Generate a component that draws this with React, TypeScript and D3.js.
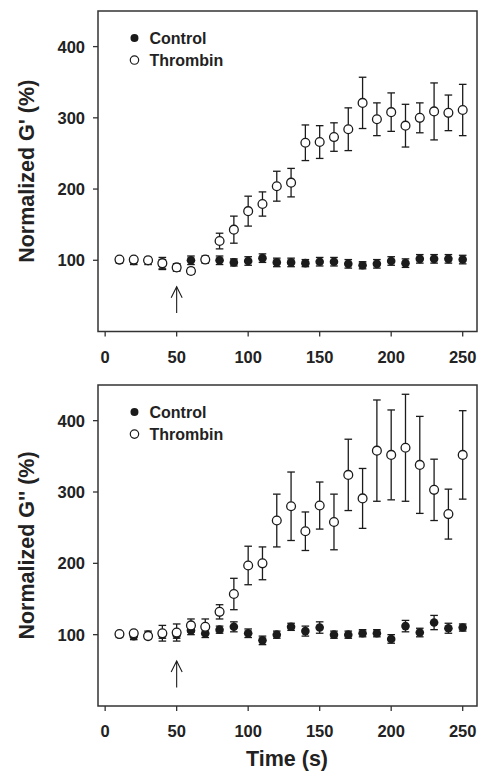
import React from "react";
import { scaleLinear } from "d3";

const times = [10, 20, 30, 40, 50, 60, 70, 80, 90, 100, 110, 120, 130, 140, 150, 160, 170, 180, 190, 200, 210, 220, 230, 240, 250];

// G' panel
const gpControl = [100, 99, 99, 94, 90, 100, 101, 100, 97, 99, 103, 97, 97, 96, 98, 98, 95, 93, 95, 99, 96, 102, 102, 102, 101];
const gpControlErr = [4, 5, 5, 7, 5, 6, 5, 6, 5, 6, 6, 6, 6, 5, 6, 6, 6, 5, 6, 6, 6, 6, 6, 6, 6];
const gpThrombin = [101, 101, 100, 96, 90, 85, 101, 127, 143, 169, 179, 204, 209, 265, 266, 273, 284, 321, 298, 308, 289, 300, 309, 307, 311];
const gpThrombinErr = [2, 2, 2, 8, 5, 4, 3, 11, 19, 21, 17, 21, 20, 25, 23, 20, 30, 36, 23, 27, 30, 21, 40, 25, 36];

// G'' panel
const gppControl = [100, 98, 100, 100, 100, 106, 102, 107, 111, 102, 92, 100, 111, 105, 110, 100, 100, 102, 102, 94, 112, 103, 117, 109, 110];
const gppControlErr = [4, 5, 5, 5, 5, 6, 6, 5, 7, 6, 6, 5, 5, 7, 8, 5, 5, 5, 5, 6, 8, 6, 10, 7, 5];
const gppThrombin = [101, 102, 98, 102, 103, 113, 111, 132, 157, 197, 200, 260, 280, 245, 281, 258, 324, 291, 358, 352, 362, 338, 303, 269, 352];
const gppThrombinErr = [2, 3, 3, 11, 12, 9, 11, 10, 22, 27, 23, 37, 48, 27, 33, 39, 50, 42, 71, 63, 75, 68, 43, 35, 62];

const xTicks = [0, 50, 100, 150, 200, 250];
const yTicks = [100, 200, 300, 400];
const legendLabels = ["Control", "Thrombin"];
const arrowAt = 50;

const FONT = "'Liberation Sans', Arial, sans-serif";
const INK = "#1b1b1b";

const x = scaleLinear().domain([-5, 260]).range([98, 477]);

type PanelProps = {
  top: number;
  bottom: number;
  label: string;
  control: number[];
  controlErr: number[];
  thrombin: number[];
  thrombinErr: number[];
};

const ErrorBar = ({ cx, lo, hi }: { cx: number; lo: number; hi: number }) => (
  <g stroke={INK} strokeWidth={1.3}>
    <line x1={cx} x2={cx} y1={lo} y2={hi} />
    <line x1={cx - 3.8} x2={cx + 3.8} y1={lo} y2={lo} />
    <line x1={cx - 3.8} x2={cx + 3.8} y1={hi} y2={hi} />
  </g>
);

const Panel = ({ top, bottom, label, control, controlErr, thrombin, thrombinErr }: PanelProps) => {
  const y = scaleLinear().domain([0, 450]).range([bottom, top]);
  const [x0, x1] = x.range();
  const legendX = x(20.5);
  const legendY = y(412);

  return (
    <g>
      {/* frame */}
      <rect x={x0} y={top} width={x1 - x0} height={bottom - top} fill="none" stroke="#333" strokeWidth={1.5} />

      {/* y axis */}
      {yTicks.map((t) => (
        <g key={t}>
          <line x1={x0 - 5} x2={x0} y1={y(t)} y2={y(t)} stroke="#333" strokeWidth={1.3} />
          <text x={x0 - 13} y={y(t)} dy="0.36em" textAnchor="end" fontFamily={FONT} fontWeight="bold" fontSize={16.5} fill="#222">
            {t}
          </text>
        </g>
      ))}
      <text
        transform={`translate(34,${(top + bottom) / 2}) rotate(-90)`}
        textAnchor="middle"
        fontFamily={FONT}
        fontWeight="bold"
        fontSize={21.5}
        fill="#222"
      >
        {label}
      </text>

      {/* x axis */}
      {xTicks.map((t) => (
        <g key={t}>
          <line x1={x(t)} x2={x(t)} y1={bottom} y2={bottom + 5} stroke="#333" strokeWidth={1.3} />
          <text x={x(t)} y={bottom + 31} textAnchor="middle" fontFamily={FONT} fontWeight="bold" fontSize={16.5} fill="#222">
            {t}
          </text>
        </g>
      ))}

      {/* control */}
      {times.map((t, i) => (
        <ErrorBar key={"ce" + t} cx={x(t)} lo={y(control[i] - controlErr[i])} hi={y(control[i] + controlErr[i])} />
      ))}
      {times.map((t, i) => (
        <circle key={"c" + t} cx={x(t)} cy={y(control[i])} r={4.3} fill={INK} />
      ))}

      {/* thrombin */}
      {times.map((t, i) => (
        <ErrorBar key={"te" + t} cx={x(t)} lo={y(thrombin[i] - thrombinErr[i])} hi={y(thrombin[i] + thrombinErr[i])} />
      ))}
      {times.map((t, i) => (
        <circle key={"t" + t} cx={x(t)} cy={y(thrombin[i])} r={4.4} fill="#fff" stroke={INK} strokeWidth={1.3} />
      ))}

      {/* arrow marking thrombin addition */}
      <g stroke={INK} strokeWidth={1.1} fill="none">
        <line x1={x(arrowAt)} x2={x(arrowAt)} y1={y(26)} y2={y(63)} />
        <polyline points={`${x(arrowAt) - 5.5},${y(63) + 11} ${x(arrowAt)},${y(63)} ${x(arrowAt) + 5.5},${y(63) + 11}`} />
      </g>

      {/* legend */}
      <circle cx={legendX} cy={legendY} r={4} fill={INK} />
      <text x={legendX + 15} y={legendY} dy="0.36em" fontFamily={FONT} fontWeight="bold" fontSize={16} fill="#222">
        {legendLabels[0]}
      </text>
      <circle cx={legendX} cy={legendY + 22} r={4.2} fill="#fff" stroke={INK} strokeWidth={1.2} />
      <text x={legendX + 15} y={legendY + 22} dy="0.36em" fontFamily={FONT} fontWeight="bold" fontSize={16} fill="#222">
        {legendLabels[1]}
      </text>
    </g>
  );
};

export default function App() {
  return (
    <svg width={483} height={772} style={{ position: "absolute", left: 0, top: 0, background: "#fff" }}>
      <Panel
        top={11}
        bottom={331.5}
        label="Normalized G' (%)"
        control={gpControl}
        controlErr={gpControlErr}
        thrombin={gpThrombin}
        thrombinErr={gpThrombinErr}
      />
      <Panel
        top={385}
        bottom={706}
        label="Normalized G'' (%)"
        control={gppControl}
        controlErr={gppControlErr}
        thrombin={gppThrombin}
        thrombinErr={gppThrombinErr}
      />
      <text x={287} y={766} textAnchor="middle" fontFamily={FONT} fontWeight="bold" fontSize={21.5} fill="#222">
        Time (s)
      </text>
    </svg>
  );
}
